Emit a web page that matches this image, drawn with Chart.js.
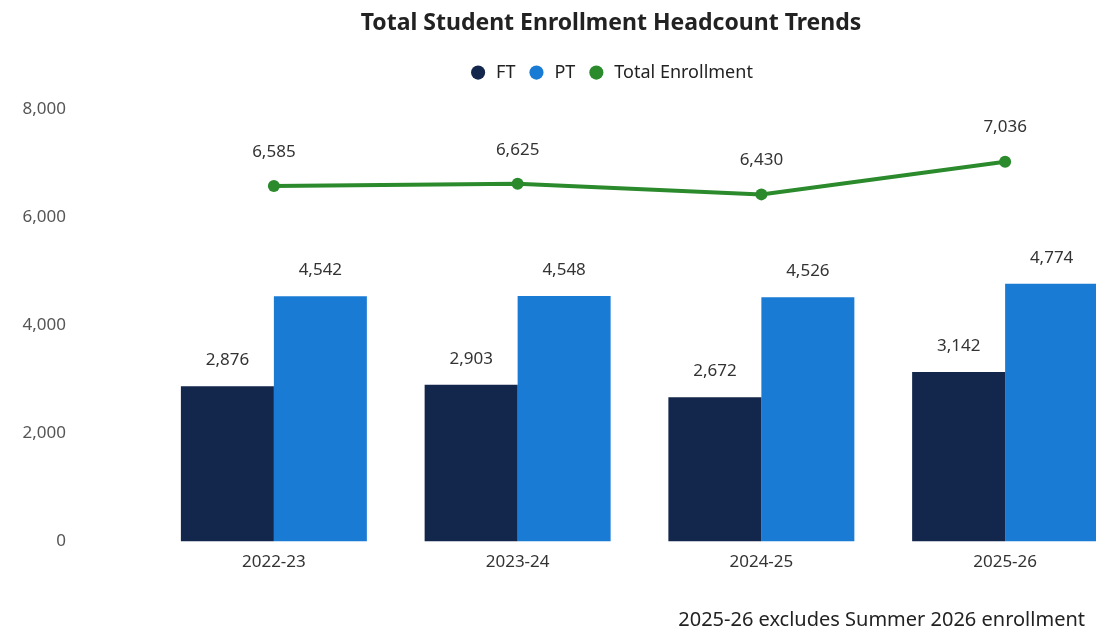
<!DOCTYPE html>
<html><head><meta charset="utf-8">
<script src="https://cdn.jsdelivr.net/npm/chart.js@4.4.1/dist/chart.umd.min.js"></script>
<style>
html,body{margin:0;padding:0;background:#fff;overflow:hidden;width:1096px;height:634px}
#wrap{position:absolute;left:0;top:0;width:1222px;height:634px}
#note{position:absolute;right:11px;top:605px;font:20px 'Noto Sans',sans-serif;color:#222;white-space:nowrap}
</style></head><body>
<div id="wrap"><canvas id="c" width="1222" height="634"></canvas></div>
<div id="note">2025-26 excludes Summer 2026 enrollment</div>
<script>
const categories = ['2022-23', '2023-24', '2024-25', '2025-26'];
const ftValues = [2876, 2903, 2672, 3142];
const ptValues = [4542, 4548, 4526, 4774];
const totalValues = [6585, 6625, 6430, 7036];
const yTickValues = [0, 2000, 4000, 6000, 8000];
const seriesNames = ['FT', 'PT', 'Total Enrollment'];

const FONT = "'Noto Sans', sans-serif";
const fmt = v => Number(v).toLocaleString('en-US');

const labelPlugin = {
  id: 'valueLabels',
  afterDatasetsDraw(chart) {
    const ctx = chart.ctx;
    ctx.save();
    ctx.font = '17px ' + FONT;
    ctx.fillStyle = '#333';
    ctx.textAlign = 'center';
    ctx.textBaseline = 'middle';
    chart.data.datasets.forEach((ds, i) => {
      const meta = chart.getDatasetMeta(i);
      meta.data.forEach((el, j) => {
        const off = ds.type === 'line' ? 34 : 26;
        ctx.fillText(fmt(ds.data[j]), el.x, el.y - off);
      });
    });
    ctx.restore();
  }
};

const hiddenAxis = (extra) => Object.assign({
  display: true,
  grid: { display: false, drawTicks: false },
  border: { display: false },
  ticks: { display: false }
}, extra);

new Chart(document.getElementById('c'), {
  type: 'bar',
  data: {
    labels: categories,
    datasets: [
      { label: seriesNames[0], data: ftValues, backgroundColor: '#13264b', order: 2,
        categoryPercentage: 0.763, barPercentage: 1.0 },
      { label: seriesNames[1], data: ptValues, backgroundColor: '#1a7bd4', order: 2,
        categoryPercentage: 0.763, barPercentage: 1.0 },
      { label: seriesNames[2], data: totalValues, type: 'line', order: 0,
        borderColor: '#2a8a2c', backgroundColor: '#2a8a2c', borderWidth: 4,
        pointRadius: 6, pointBackgroundColor: '#2a8a2c', pointBorderWidth: 0,
        tension: 0, fill: false }
    ]
  },
  options: {
    responsive: false,
    animation: false,
    layout: { padding: { left: 0, right: 0, top: 0, bottom: 52 } },
    plugins: {
      title: { display: true, text: 'Total Student Enrollment Headcount Trends',
        color: '#222', font: { family: FONT, size: 23, weight: 'bold' },
        padding: { top: 10, bottom: 14 } },
      legend: { display: true, position: 'top',
        labels: { usePointStyle: true, pointStyle: 'circle', boxHeight: 10,
          color: '#222', font: { family: FONT, size: 18 }, padding: 12,
          sort: (a, b) => a.datasetIndex - b.datasetIndex } },
      tooltip: { enabled: false }
    },
    scales: {
      x: {
        grid: { display: false, drawTicks: false },
        border: { display: false },
        ticks: { color: '#333', font: { family: FONT, size: 17 }, padding: 10 }
      },
      xPad: hiddenAxis({ position: 'top', afterFit: s => { s.height = 18; } }),
      y: {
        min: 0, max: 8000, weight: 1,
        afterBuildTicks: s => { s.ticks = yTickValues.map(v => ({ value: v })); },
        afterFit: s => { s.width = 70; },
        grid: { display: false, drawTicks: false },
        border: { display: false },
        ticks: { color: '#555', font: { family: FONT, size: 17 }, padding: 4,
          callback: v => fmt(v) }
      },
      yGap: hiddenAxis({ position: 'left', weight: 0, afterFit: s => { s.width = 82; } }),
      yPad: hiddenAxis({ position: 'right', afterFit: s => { s.width = 95; } })
    }
  },
  plugins: [labelPlugin]
});
</script>
</body></html>
